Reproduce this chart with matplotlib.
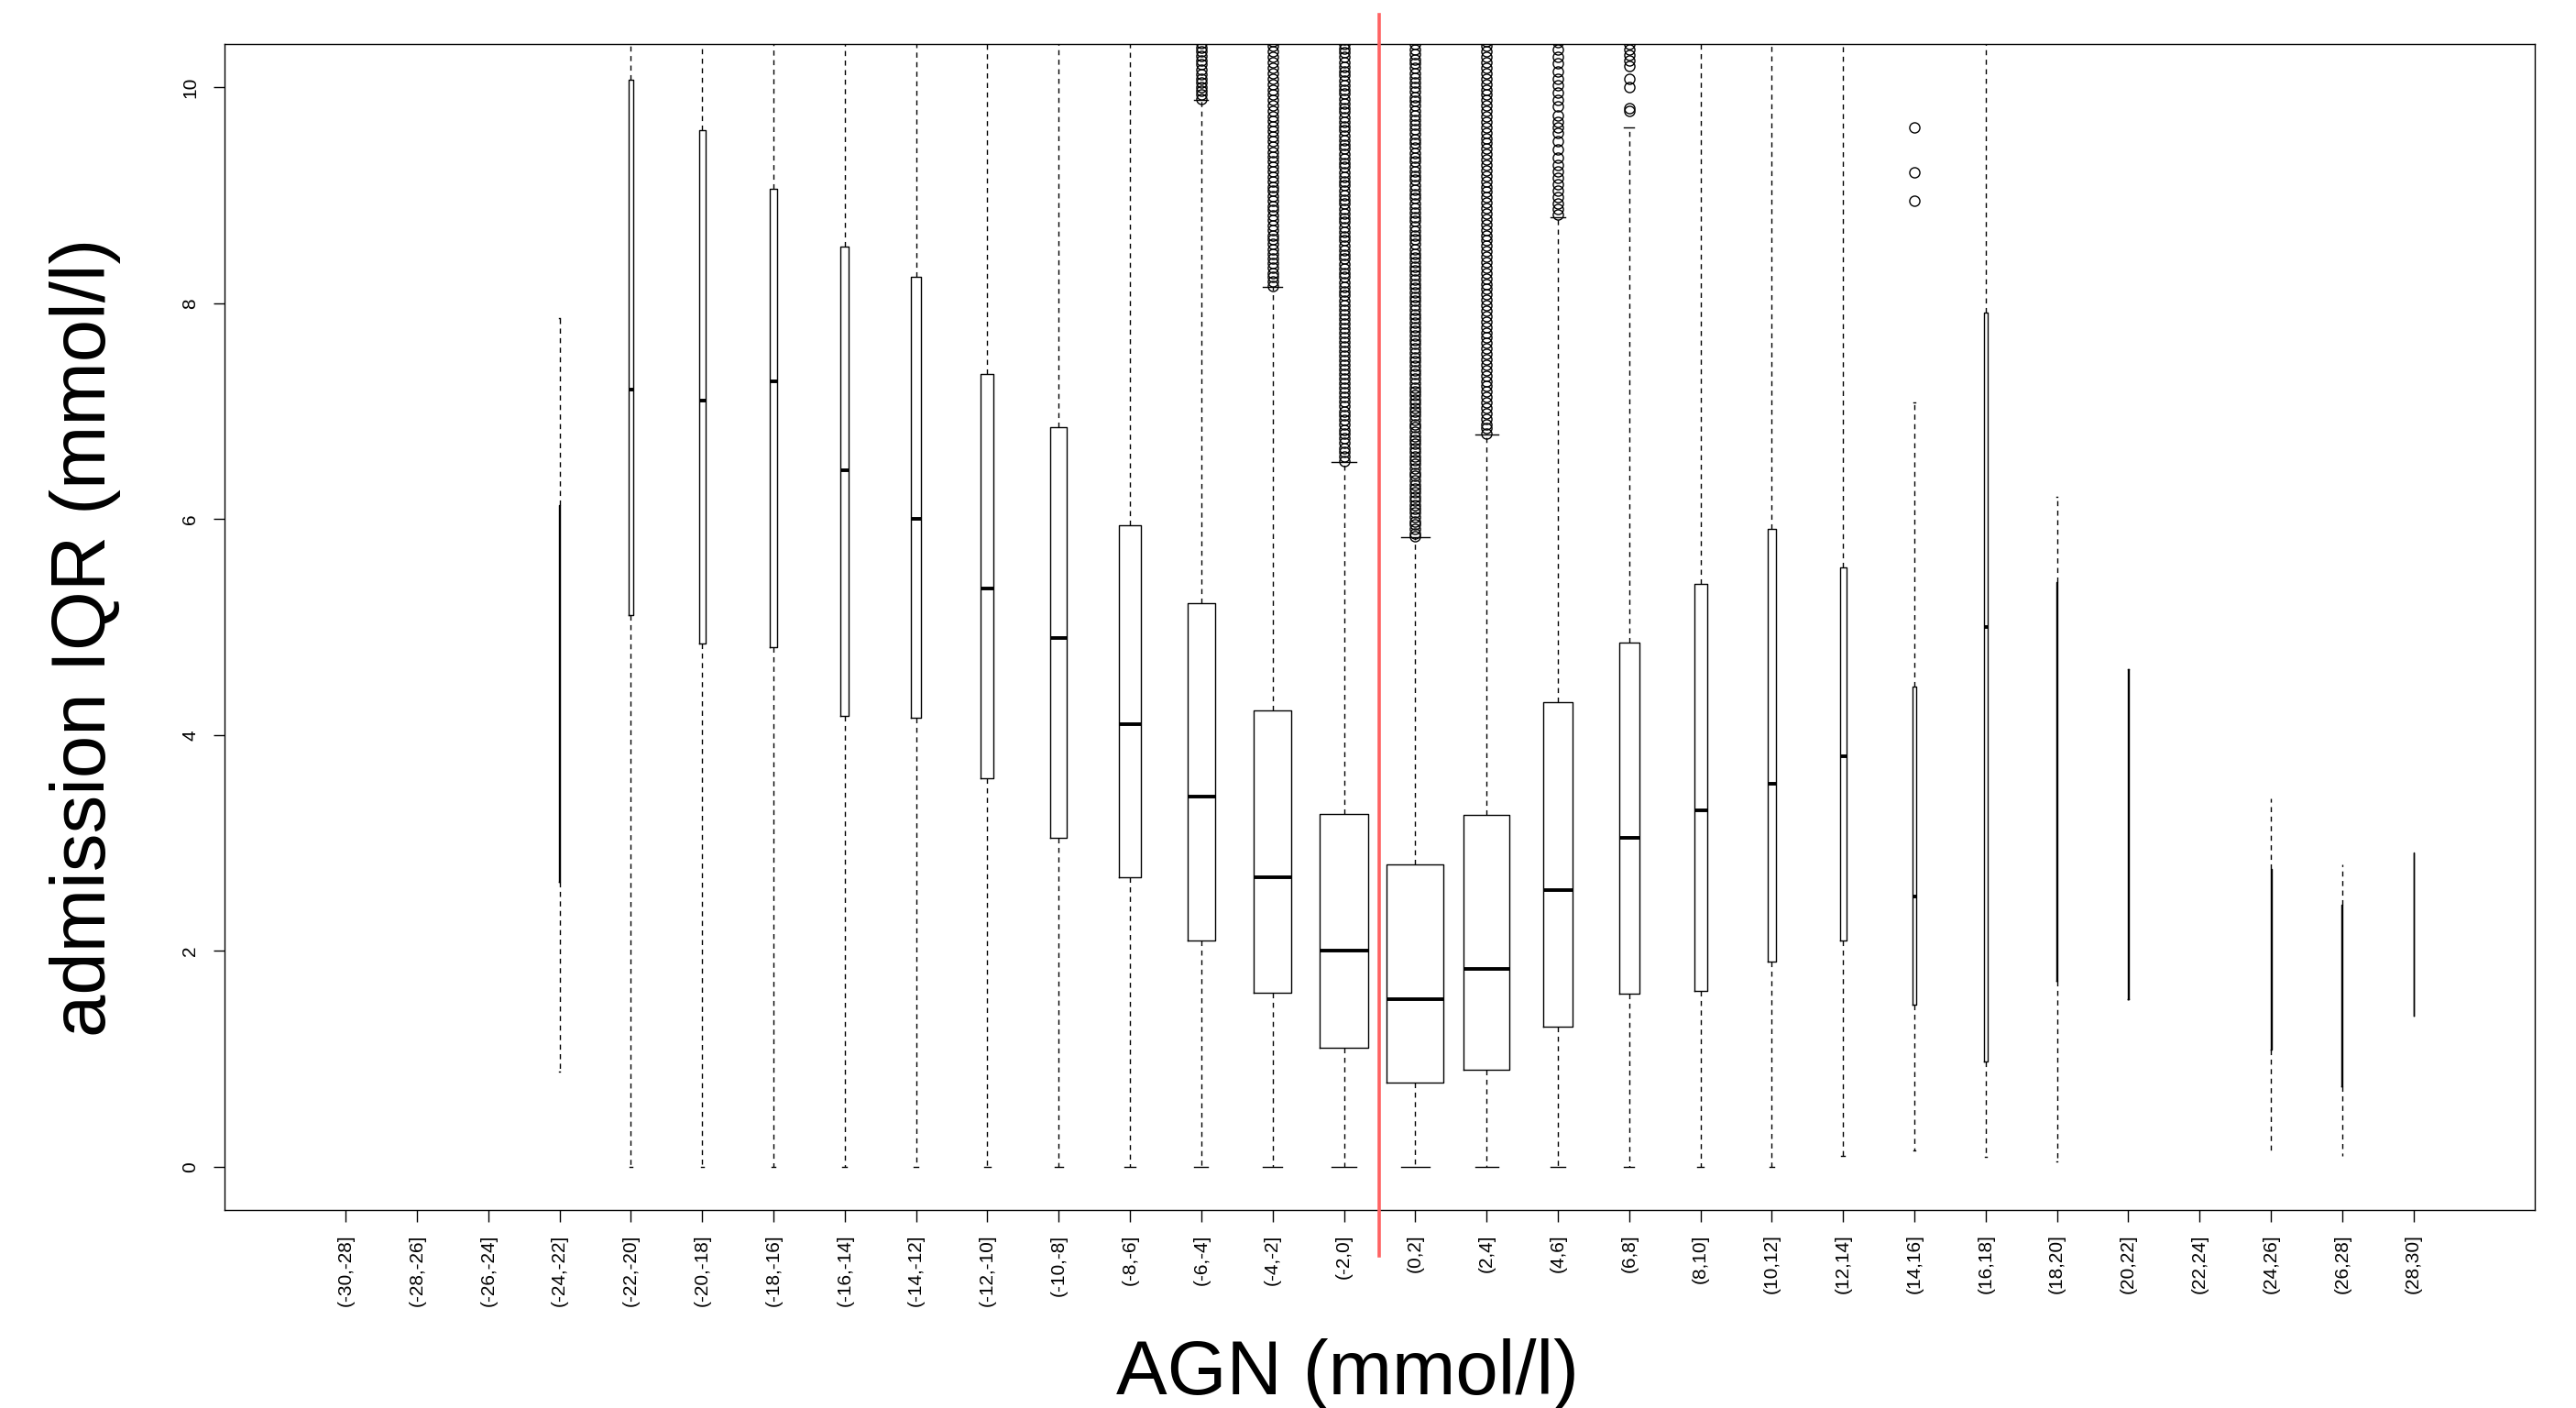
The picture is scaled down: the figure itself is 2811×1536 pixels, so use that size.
import matplotlib
matplotlib.use('Agg')
import matplotlib.pyplot as plt
import numpy as np

plt.rcParams['font.family'] = ['Liberation Sans', 'DejaVu Sans']

# AGN bins (mmol/l)
agn_bins = ['(-30,-28]', '(-28,-26]', '(-26,-24]', '(-24,-22]', '(-22,-20]', '(-20,-18]',
            '(-18,-16]', '(-16,-14]', '(-14,-12]', '(-12,-10]', '(-10,-8]', '(-8,-6]',
            '(-6,-4]', '(-4,-2]', '(-2,0]', '(0,2]', '(2,4]', '(4,6]', '(6,8]', '(8,10]',
            '(10,12]', '(12,14]', '(14,16]', '(16,18]', '(18,20]', '(20,22]', '(22,24]',
            '(24,26]', '(26,28]', '(28,30]']

# box statistics of admission IQR per bin (None = empty bin)
q1 = [None, None, None, 2.64, 5.11, 4.85, 4.81, 4.18, 4.16, 3.60, 3.05, 2.68, 2.10, 1.61, 1.10,
      0.78, 0.90, 1.30, 1.60, 1.63, 1.90, 2.10, 1.50, 0.98, 1.72, 1.55, None, 1.09, 0.75, 1.40]
med = [None, None, None, 4.40, 7.20, 7.10, 7.28, 6.45, 6.00, 5.36, 4.90, 4.10, 3.43, 2.68, 2.00,
       1.55, 1.83, 2.56, 3.05, 3.30, 3.55, 3.80, 2.50, 5.00, 3.60, 3.00, None, 2.09, 1.60, 2.10]
q3 = [None, None, None, 6.13, 10.07, 9.60, 9.06, 8.52, 8.24, 7.34, 6.85, 5.94, 5.22, 4.23, 3.27,
      2.80, 3.26, 4.30, 4.86, 5.40, 5.91, 5.55, 4.45, 7.91, 5.42, 4.61, None, 2.76, 2.43, 2.91]
whis_lo = [None, None, None, 0.88, 0, 0, 0, 0, 0, 0, 0, 0, 0, 0, 0,
           0, 0, 0, 0, 0, 0, 0.10, 0.15, 0.09, 0.05, 1.55, None, 0.15, 0.10, 1.40]
# 10.6 = whisker runs past the top of the plot
whis_hi = [None, None, None, 7.86, 10.6, 10.6, 10.6, 10.6, 10.6, 10.6, 10.6, 10.6, 9.88, 8.15, 6.53,
           5.83, 6.78, 8.80, 9.63, 10.6, 10.6, 10.6, 7.08, 10.6, 6.21, 4.61, None, 3.41, 2.80, 2.91]
# relative box width (varwidth, ~sqrt(n))
box_w = [0, 0, 0, 0.02, 0.058, 0.086, 0.098, 0.12, 0.14, 0.18, 0.235, 0.30, 0.39, 0.53, 0.69,
         0.80, 0.65, 0.41, 0.28, 0.18, 0.126, 0.09, 0.058, 0.046, 0.02, 0.006, 0, 0.012, 0.012, 0.006]

# outliers (only the part inside the plotted range)
out_m6_m4 = [9.89, 9.93, 9.97, 10.00, 10.04, 10.08, 10.12, 10.16, 10.21, 10.25, 10.29, 10.33, 10.37, 10.41]
out_m4_m2 = [8.16, 8.20, 8.24, 8.28, 8.33, 8.37, 8.41, 8.46, 8.50, 8.55, 8.59, 8.63, 8.68, 8.72, 8.77,
             8.81, 8.86, 8.90, 8.95, 8.99, 9.04, 9.08, 9.13, 9.17, 9.22, 9.26, 9.31, 9.36, 9.40, 9.45,
             9.50, 9.54, 9.59, 9.64, 9.69, 9.73, 9.78, 9.83, 9.88, 9.93, 9.98, 10.03, 10.08, 10.13,
             10.18, 10.23, 10.28, 10.33, 10.38, 10.43]
out_m2_0 = [6.54, 6.58, 6.62, 6.66, 6.71, 6.75, 6.79, 6.83, 6.88, 6.92, 6.96, 7.00, 7.05, 7.09, 7.13,
            7.17, 7.22, 7.26, 7.30, 7.34, 7.39, 7.43, 7.47, 7.51, 7.56, 7.60, 7.64, 7.68, 7.73, 7.77,
            7.81, 7.85, 7.90, 7.94, 7.98, 8.02, 8.07, 8.11, 8.15, 8.19, 8.24, 8.28, 8.32, 8.36, 8.41,
            8.45, 8.49, 8.53, 8.58, 8.62, 8.66, 8.70, 8.75, 8.79, 8.83, 8.87, 8.92, 8.96, 9.00, 9.04,
            9.09, 9.13, 9.17, 9.21, 9.26, 9.30, 9.34, 9.38, 9.43, 9.47, 9.51, 9.55, 9.60, 9.64, 9.68,
            9.72, 9.77, 9.81, 9.85, 9.89, 9.94, 9.98, 10.02, 10.06, 10.11, 10.15, 10.19, 10.23, 10.28,
            10.32, 10.36, 10.40, 10.44]
out_0_2 = [5.84, 5.87, 5.91, 5.95, 5.98, 6.02, 6.06, 6.10, 6.13, 6.17, 6.21, 6.25, 6.28, 6.32, 6.36,
           6.40, 6.43, 6.47, 6.51, 6.55, 6.58, 6.62, 6.66, 6.70, 6.73, 6.77, 6.81, 6.85, 6.88, 6.92,
           6.96, 7.00, 7.03, 7.07, 7.11, 7.15, 7.18, 7.22, 7.26, 7.30, 7.34, 7.38, 7.42, 7.46, 7.50,
           7.54, 7.58, 7.62, 7.66, 7.70, 7.74, 7.78, 7.82, 7.86, 7.90, 7.94, 7.98, 8.02, 8.06, 8.10,
           8.14, 8.18, 8.22, 8.26, 8.30, 8.34, 8.38, 8.42, 8.46, 8.50, 8.55, 8.59, 8.63, 8.67, 8.71,
           8.76, 8.80, 8.84, 8.88, 8.92, 8.97, 9.01, 9.05, 9.09, 9.14, 9.18, 9.22, 9.26, 9.31, 9.35,
           9.39, 9.44, 9.48, 9.52, 9.57, 9.61, 9.65, 9.70, 9.74, 9.78, 9.83, 9.87, 9.91, 9.96, 10.00,
           10.04, 10.09, 10.13, 10.18, 10.22, 10.26, 10.31, 10.35, 10.40, 10.44]
out_2_4 = [6.79, 6.84, 6.88, 6.93, 6.98, 7.03, 7.08, 7.13, 7.18, 7.23, 7.28, 7.33, 7.38, 7.43, 7.48,
           7.53, 7.58, 7.63, 7.68, 7.73, 7.78, 7.83, 7.88, 7.93, 7.98, 8.03, 8.08, 8.13, 8.18, 8.23,
           8.28, 8.33, 8.38, 8.43, 8.48, 8.53, 8.58, 8.63, 8.68, 8.73, 8.78, 8.83, 8.88, 8.93, 8.98,
           9.03, 9.08, 9.13, 9.18, 9.23, 9.28, 9.33, 9.38, 9.43, 9.48, 9.53, 9.58, 9.63, 9.68, 9.73,
           9.78, 9.83, 9.88, 9.93, 9.98, 10.03, 10.08, 10.13, 10.18, 10.23, 10.28, 10.33, 10.38, 10.43]
out_4_6 = [8.82, 8.87, 8.92, 8.98, 9.04, 9.10, 9.16, 9.22, 9.28, 9.35, 9.42, 9.50, 9.58, 9.63, 9.68,
           9.74, 9.82, 9.88, 9.95, 10.02, 10.08, 10.15, 10.22, 10.28, 10.35, 10.42]
out_6_8 = [9.78, 9.81, 10.00, 10.08, 10.20, 10.25, 10.30, 10.35, 10.40]
out_14_16 = [8.95, 9.21, 9.63]

fliers = {12: out_m6_m4, 13: out_m4_m2, 14: out_m2_0, 15: out_0_2,
          16: out_2_4, 17: out_4_6, 18: out_6_8, 22: out_14_16}

split_at = 15.5  # red line between (-2,0] and (0,2]

fig = plt.figure(figsize=(28.11, 15.36), dpi=100)
ax = fig.add_axes([0.0871, 0.1406, 0.8969, 0.8281])

stats, pos, widths = [], [], []
for i, lab in enumerate(agn_bins):
    if med[i] is None:
        continue
    stats.append(dict(label=lab, med=med[i], q1=q1[i], q3=q3[i],
                      whislo=whis_lo[i], whishi=whis_hi[i],
                      fliers=fliers.get(i, [])))
    pos.append(i + 1)
    widths.append(box_w[i])

ax.bxp(stats, positions=pos, widths=widths, capwidths=[w * 0.5 for w in widths],
       manage_ticks=False,
       boxprops=dict(color='black', linewidth=1.0),
       medianprops=dict(color='black', linewidth=2.8, solid_capstyle='butt'),
       whiskerprops=dict(color='black', linewidth=1.0, linestyle=(0, (4, 3.5))),
       capprops=dict(color='black', linewidth=1.0),
       flierprops=dict(marker='o', markerfacecolor='none', markeredgecolor='black',
                       markersize=8, markeredgewidth=1.0, linestyle='none'))

ax.plot([split_at, split_at], [-0.82, 10.67], color='#ff6262', linewidth=2.6,
        clip_on=False, zorder=10)

ax.set_xlim(-0.7, 31.7)
ax.set_ylim(-0.4, 10.4)
ax.set_xticks(np.arange(1, len(agn_bins) + 1))
ax.set_xticklabels(agn_bins, rotation=90, fontsize=15)
ax.set_yticks([0, 2, 4, 6, 8, 10])
ax.set_yticklabels(['0', '2', '4', '6', '8', '10'], rotation=90, va='center', fontsize=15)
ax.tick_params(axis='x', length=9, width=1.0, pad=10)
ax.tick_params(axis='y', length=9, width=1.0, pad=11)
for sp in ax.spines.values():
    sp.set_linewidth(1.0)
    sp.set_color('black')

fig.text(0.0331, 0.547, 'admission IQR (mmol/l)', rotation=90, ha='center', va='center',
         fontsize=60)
fig.text(0.523, 0.0095, 'AGN (mmol/l)', ha='center', va='baseline', fontsize=60)

fig.savefig('out.png', dpi=100)
